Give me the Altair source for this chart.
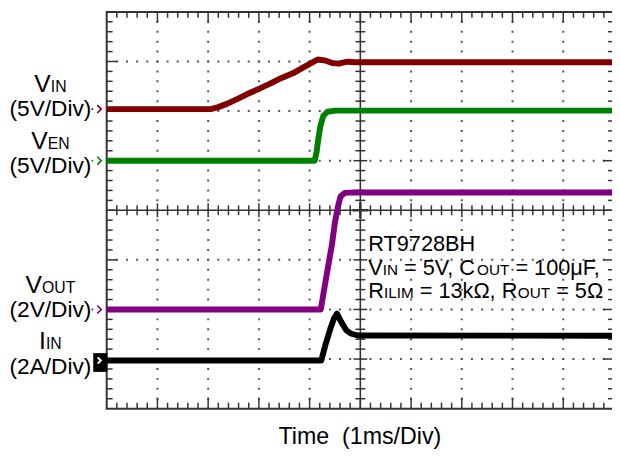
import altair as alt
import pandas as pd

# ---------------- values read from the scope capture ----------------
# time in ms (1 ms/div, 0 = left edge of the screen)
vin_t = [0.0, 2.05, 2.2, 2.38, 2.57, 2.76, 3.00, 3.21, 3.40, 3.68, 3.87, 4.03, 4.16, 4.32, 4.46, 4.57, 4.75, 4.90, 10.0]
vin_v = [0.0, 0.0, 0.2, 0.55, 1.0, 1.49, 2.04, 2.54, 3.03, 3.63, 4.18, 4.63, 5.0, 4.88, 4.63, 4.58, 4.78, 4.73, 4.73]

ven_t = [0.0, 4.10, 4.14, 4.17, 4.21, 4.27, 4.35, 4.51, 10.0]
ven_v = [0.0, 0.0, 0.95, 2.14, 3.43, 4.53, 4.93, 5.05, 5.05]

vout_t = [0.0, 4.22, 4.32, 4.44, 4.50, 4.56, 4.61, 4.69, 4.90, 10.0]
vout_v = [0.0, 0.0, 1.21, 2.61, 3.52, 4.16, 4.56, 4.70, 4.72, 4.72]

iin_t = [0.0, 4.23, 4.31, 4.41, 4.48, 4.54, 4.62, 4.72, 4.81, 4.95, 10.0]
iin_a = [0.0, 0.0, 0.62, 1.29, 1.69, 1.89, 1.57, 1.23, 1.09, 1.01, 1.0]

channel_names = ["VIN", "VEN", "VOUT", "IIN"]
channel_ground_div = [6.04, 5.0, 2.0, 0.97]   # ground marker level (divisions from bottom)
channel_per_div = [5.0, 5.0, 2.0, 2.0]        # V/div, A/div
channel_colors = ["#800000", "#008000", "#800080", "#000000"]

# ---------------- screen geometry ----------------
N_XDIV, N_YDIV = 10, 8
PX_X, PX_Y = 51.4, 50.25
W, H = 512, 402
XMAX = W / PX_X
LEFT, TOP = 100, 1
ORIGIN_X, BOTTOM_Y = 8 + LEFT, 8 + TOP + H
FRAME = "#333333"
DOT = "#555555"
FONT = "Arial, Liberation Sans, sans-serif"

xs = alt.Scale(domain=[0, XMAX], nice=False, zero=False)
ys = alt.Scale(domain=[0, N_YDIV], nice=False, zero=False)


def X(f="t"):
    return alt.X(f"{f}:Q", scale=xs, axis=None)


def Y(f="y"):
    return alt.Y(f"{f}:Q", scale=ys, axis=None)


layers = []

# dotted graticule
gv = pd.DataFrame({"t": [k for k in range(1, N_XDIV) if k != 5], "y": 0.0, "y2": float(N_YDIV)})
layers.append(alt.Chart(gv).mark_rule(color=DOT, strokeWidth=2, strokeDash=[2, PX_Y / 5 - 2],
                                      strokeDashOffset=1, strokeCap="butt")
              .encode(x=X(), y=Y(), y2="y2:Q"))
gh = pd.DataFrame({"y": [k for k in range(1, N_YDIV) if k != 4], "t": 0.0, "t2": float(N_XDIV)})
layers.append(alt.Chart(gh).mark_rule(color=DOT, strokeWidth=2, strokeDash=[2, PX_X / 5 - 2],
                                      strokeDashOffset=1, strokeCap="butt")
              .encode(x=X(), x2="t2:Q", y=Y()))

# frame and centre lines
fr = pd.DataFrame({"t": [0.0], "t2": [float(N_XDIV)], "y": [0.0], "y2": [float(N_YDIV)]})
layers.append(alt.Chart(fr).mark_rect(fillOpacity=0, stroke=FRAME, strokeWidth=2)
              .encode(x=X(), x2="t2:Q", y=Y(), y2="y2:Q"))
cv = pd.DataFrame({"t": [N_XDIV / 2], "y": [0.0], "y2": [float(N_YDIV)]})
layers.append(alt.Chart(cv).mark_rule(color=FRAME, strokeWidth=1.6).encode(x=X(), y=Y(), y2="y2:Q"))
ch = pd.DataFrame({"y": [N_YDIV / 2], "t": [0.0], "t2": [float(N_XDIV)]})
layers.append(alt.Chart(ch).mark_rule(color=FRAME, strokeWidth=1.6).encode(x=X(), x2="t2:Q", y=Y()))


def vticks(vals, ybase, o1, o2, w=1.5):
    df = pd.DataFrame({"t": vals, "y": float(ybase)})
    return (alt.Chart(df).mark_rule(color=FRAME, strokeWidth=w, yOffset=o1, y2Offset=o2)
            .encode(x=X(), y=Y(), y2=alt.Y2("y:Q")))


def hticks(vals, tbase, o1, o2, w=1.5):
    df = pd.DataFrame({"y": vals, "t": float(tbase)})
    return (alt.Chart(df).mark_rule(color=FRAME, strokeWidth=w, xOffset=o1, x2Offset=o2)
            .encode(x=X(), x2=alt.X2("t:Q"), y=Y()))


minor_x = [round(0.2 * k, 2) for k in range(1, N_XDIV * 5) if k % 5]
major_x = list(range(1, N_XDIV))
minor_y = [round(0.2 * k, 2) for k in range(1, N_YDIV * 5) if k % 5]
major_y = list(range(1, N_YDIV))

layers += [
    vticks(minor_x, 0, 0, -6), vticks(major_x, 0, 0, -11),
    vticks(minor_x, N_YDIV, 0, 6), vticks(major_x, N_YDIV, 0, 11),
    hticks(minor_y, 0, 0, 6), hticks(major_y, 0, 0, 11),
    hticks(minor_y, N_XDIV, 0, -6), hticks(major_y, N_XDIV, 0, -11),
    vticks(minor_x, N_YDIV / 2, -5, 5), vticks([k for k in major_x if k != 5], N_YDIV / 2, -7, 7),
    hticks(minor_y, N_XDIV / 2, -5, 5), hticks([k for k in major_y if k != 4], N_XDIV / 2, -7, 7),
    vticks([N_XDIV / 2], N_YDIV / 2, -8, 8, 2.5), hticks([N_YDIV / 2], N_XDIV / 2, -8, 8, 2.5),
]

# traces
series_t = [vin_t, ven_t, vout_t, iin_t]
series_v = [vin_v, ven_v, vout_v, iin_a]
for name, tt, vv, g, pdv, col in zip(channel_names, series_t, series_v, channel_ground_div,
                                     channel_per_div, channel_colors):
    df = pd.DataFrame({"t": tt, "val": vv})
    df["y"] = g + df["val"] / pdv
    layers.append(alt.Chart(df).mark_line(color=col, strokeWidth=6, strokeJoin="round")
                  .encode(x=X(), y=Y()))

# channel ground markers
CHEV = "M-0.5,-1L0.5,0L-0.5,1"
mk = pd.DataFrame({"y": channel_ground_div[:3], "col": channel_colors[:3]})
layers.append(alt.Chart(mk).mark_point(shape=CHEV, size=64, filled=False, strokeWidth=1.6, opacity=1)
              .encode(x=alt.value(-7.5), y=Y(), color=alt.Color("col:N", scale=None)))
layers.append(alt.Chart(mk).mark_point(shape="square", size=3, filled=True, opacity=1)
              .encode(x=alt.value(-14.5), y=Y(), color=alt.Color("col:N", scale=None)))
mi = pd.DataFrame({"y": [channel_ground_div[3]]})
layers.append(alt.Chart(mi).mark_point(shape="M-0.75,-1H0.75V1H-0.75Z", size=361, filled=True,
                                       color="black", opacity=1, yOffset=2)
              .encode(x=alt.value(-6.5), y=Y()))
layers.append(alt.Chart(mi).mark_point(shape=CHEV, size=40, filled=False, color="white",
                                       strokeWidth=2, opacity=1)
              .encode(x=alt.value(-7.5), y=Y()))

# text
AW = {' ': 278, '(': 333, ')': 333, ',': 278, '/': 278, '=': 584, 'A': 667, 'B': 667,
      'C': 722, 'D': 722, 'E': 667, 'F': 611, 'H': 722, 'I': 278, 'L': 556, 'M': 833, 'N': 722,
      'O': 778, 'R': 722, 'T': 611, 'U': 722, 'V': 667, 'i': 222, 'k': 500, 'm': 833, 's': 500,
      'v': 500, 'e': 556, '\u03bc': 576, '\u03a9': 768}


def tw(s, fs):
    return sum(AW.get(c, 556) for c in s) * fs / 1000.0


def row(pieces, x, baseline, anchor="left"):
    total = sum(tw(s, f) for s, f in pieces)
    if anchor == "center":
        x = x - total / 2
    out = []
    for s, f in pieces:
        lead = len(s) - len(s.lstrip(" "))
        x += tw(" " * lead, f)
        body = s.lstrip(" ")
        out.append({"text": body.replace(" ", "\u00a0"), "fs": f,
                    "t": (x - ORIGIN_X) / PX_X, "y": (BOTTOM_Y - baseline) / PX_Y})
        x += tw(body, f)
    return out


MAIN_L, SUB_L, DIV_L = 25, 16, 23
MAIN_A, SUB_A = 22, 15.5
label_rows = [
    ([("V", MAIN_L), ("IN", SUB_L)], 51, 90, "center"),
    ([("(5V/Div)", DIV_L)], 51, 114, "center"),
    ([("V", MAIN_L), ("EN", SUB_L)], 51, 148, "center"),
    ([("(5V/Div)", DIV_L)], 51, 172, "center"),
    ([("V", MAIN_L), ("OUT", SUB_L)], 51, 294, "center"),
    ([("(2V/Div)", DIV_L)], 51, 318, "center"),
    ([("I", MAIN_L), ("IN", SUB_L)], 51, 351, "center"),
    ([("(2A/Div)", DIV_L)], 51, 376, "center"),
    ([("RT9728BH", MAIN_A)], 373, 251, "left"),
    ([("V", MAIN_A), ("IN", SUB_A), (" = 5V, C", MAIN_A), ("OUT", SUB_A), (" = 100\u03bcF,", MAIN_A)], 373, 276, "left"),
    ([("R", MAIN_A), ("ILIM", SUB_A), (" = 13k\u03a9, R", MAIN_A), ("OUT", SUB_A), (" = 5\u03a9", MAIN_A)], 373, 299, "left"),
    ([("Time  (1ms/Div)", 23.5)], 365, 447, "center"),
]
recs = []
for pieces, x, b, a in label_rows:
    recs += row(pieces, x, b, a)
tdf = pd.DataFrame(recs)
layers.append(alt.Chart(tdf).mark_text(align="left", baseline="alphabetic", font=FONT, color="black")
              .encode(x=X(), y=Y(), text="text:N", size=alt.Size("fs:Q", scale=None)))

chart = (alt.layer(*layers)
         .properties(width=W, height=H, autosize=alt.AutoSizeParams(type="none"),
                     padding={"left": LEFT, "top": TOP, "right": 0, "bottom": 42})
         .configure_view(stroke=None))

chart.save("out.html", embed_options={"renderer": "svg", "actions": False})
